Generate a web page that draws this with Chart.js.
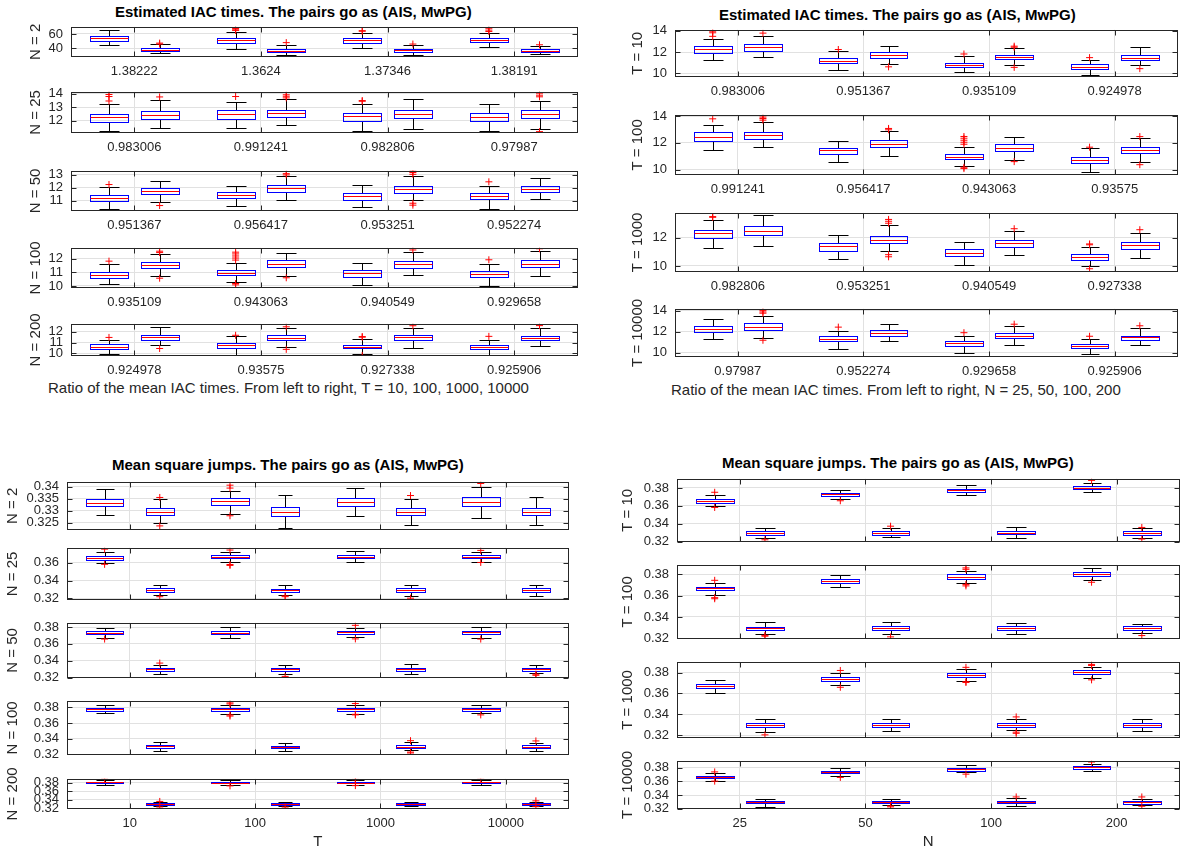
<!DOCTYPE html>
<html>
<head>
<meta charset="utf-8">
<title>IAC times and mean square jumps</title>
<script src="https://cdn.jsdelivr.net/npm/chart.js@4.4.0/dist/chart.umd.min.js"></script>
<style>
  html, body { margin: 0; padding: 0; background: #fff; }
  body { width: 1184px; height: 852px; position: relative; overflow: hidden;
         font-family: 'Liberation Sans', Arial, Helvetica, sans-serif; }
  canvas { position: absolute; }
  .txt { position: absolute; white-space: nowrap; color: #262626; font-size: 15px; line-height: 18px; }
  .ttl { font-weight: bold; color: #000; }
</style>
</head>
<body>
<div class="txt ttl" style="left:115px;top:3px;">Estimated IAC times. The pairs go as (AIS, MwPG)</div>
<div class="txt ttl" style="left:719px;top:6px;">Estimated IAC times. The pairs go as (AIS, MwPG)</div>
<div class="txt ttl" style="left:112px;top:456px;">Mean square jumps. The pairs go as (AIS, MwPG)</div>
<div class="txt ttl" style="left:722px;top:454px;">Mean square jumps. The pairs go as (AIS, MwPG)</div>
<div class="txt" style="left:48px;top:379px;">Ratio of the mean IAC times. From left to right, T = 10, 100, 1000, 10000</div>
<div class="txt" style="left:671px;top:381px;">Ratio of the mean IAC times. From left to right, N = 25, 50, 100, 200</div>

<script>
// ===== data =====
const nAll = ['2', '25', '50', '100', '200'];
const tValues = ['10', '100', '1000', '10000'];
const nValues = ['25', '50', '100', '200'];

// ratio of mean IAC times, per N, from left to right T = 10, 100, 1000, 10000
const iacRatioN2 = ['1.38222', '1.3624', '1.37346', '1.38191'];
const iacRatioN25 = ['0.983006', '0.991241', '0.982806', '0.97987'];
const iacRatioN50 = ['0.951367', '0.956417', '0.953251', '0.952274'];
const iacRatioN100 = ['0.935109', '0.943063', '0.940549', '0.929658'];
const iacRatioN200 = ['0.924978', '0.93575', '0.927338', '0.925906'];

// boxes: [low whisker, q1, median, q3, high whisker]
// order: T=10 AIS, T=10 MwPG, T=100 AIS, T=100 MwPG, T=1000 AIS, ...
const iacN2 = [[45, 50.4, 53.8, 56.9, 65.4], [33, 35.8, 37.7, 40, 45.4], [38.8, 48, 51.9, 54.6, 62.7], [30.8, 35.4, 37, 38.5, 44.2],
  [40.8, 48, 51.5, 53.8, 62], [30.8, 35, 37.3, 38.8, 44.2], [42.3, 48.8, 52.3, 54.6, 61.5], [31.5, 35.4, 37, 38.5, 43.8]];
const iacN2Out = [[], [47.3, 46], [67.7, 65.8, 65], [48], [64.6, 63.8], [46], [68, 65.4, 63.5], [45]];

const iacN25 = [[11.25, 11.95, 12.25, 12.52, 13.22], [11.5, 12.14, 12.45, 12.73, 13.52], [11.45, 12.12, 12.47, 12.78, 13.37], [11.7, 12.3, 12.58, 12.8, 13.58],
  [11.26, 11.97, 12.34, 12.56, 13.26], [11.43, 12.18, 12.48, 12.8, 13.61], [11.28, 11.97, 12.25, 12.56, 13.22], [11.43, 12.21, 12.51, 12.8, 13.5]];
const iacN25Out = [[13.95, 13.8, 13.47], [13.77], [13.8], [13.93, 13.82, 13.7], [13.5, 13.45], [], [], [14.05, 13.9, 13.78, 11.2]];

const iacN50 = [[10.33, 10.96, 11.17, 11.42, 12.06], [10.87, 11.48, 11.73, 12.01, 12.52], [10.58, 11.19, 11.45, 11.64, 12.15], [11.02, 11.68, 11.95, 12.2, 12.9],
  [10.52, 11.06, 11.38, 11.6, 12.22], [11.04, 11.62, 11.86, 12.15, 12.87], [10.37, 11.09, 11.33, 11.56, 12.09], [11.12, 11.65, 11.87, 12.14, 12.78]];
const iacN50Out = [[12.24], [10.62], [], [13.08, 12.98], [], [13.3, 13.17, 13.03, 10.8, 10.65], [12.45], []];

const iacN100 = [[10.14, 10.58, 10.81, 11.01, 11.61], [10.75, 11.33, 11.54, 11.76, 12.35], [10.27, 10.78, 10.96, 11.18, 11.68], [10.75, 11.42, 11.64, 11.9, 12.44],
  [10.05, 10.69, 10.95, 11.19, 11.7], [10.8, 11.35, 11.62, 11.83, 12.49], [10.0, 10.63, 10.9, 11.1, 11.62], [10.76, 11.42, 11.64, 11.88, 12.6]];
const iacN100Out = [[11.82], [12.55, 12.45, 10.57], [12.48, 12.35, 12.2, 12.05, 11.9, 10.18, 10.08], [10.6], [], [12.64], [11.92], [12.73]];

const iacN200 = [[9.9, 10.43, 10.62, 10.84, 11.25], [10.77, 11.22, 11.49, 11.71, 12.44], [9.84, 10.5, 10.73, 10.96, 11.59], [10.6, 11.25, 11.46, 11.68, 12.37],
  [9.97, 10.45, 10.63, 10.82, 11.36], [10.54, 11.23, 11.49, 11.69, 12.35], [9.87, 10.42, 10.61, 10.8, 11.28], [10.72, 11.23, 11.47, 11.65, 12.32]];
const iacN200Out = [[11.48], [10.45], [11.68], [12.47, 10.37], [11.56, 11.5, 9.8], [12.57], [11.58], [12.58]];

const msjN2 = [[0.3282, 0.332, 0.3333, 0.3349, 0.3389], [0.3247, 0.3282, 0.3294, 0.331, 0.335], [0.3285, 0.3324, 0.3339, 0.3354, 0.3383], [0.3227, 0.3278, 0.3295, 0.3315, 0.3367],
  [0.3279, 0.3319, 0.3336, 0.3353, 0.3396], [0.324, 0.3281, 0.3296, 0.331, 0.3349], [0.3269, 0.3319, 0.3338, 0.3356, 0.3398], [0.324, 0.3281, 0.3296, 0.3313, 0.3359]];
const msjN2Out = [[], [0.3355, 0.3237], [0.3406, 0.3394, 0.3279], [], [], [0.3363], [0.3413], []];

const msjN25 = [[0.3595, 0.3634, 0.3655, 0.3673, 0.3723], [0.3239, 0.3277, 0.3295, 0.3313, 0.3352], [0.3606, 0.365, 0.3668, 0.3684, 0.3717], [0.3242, 0.3276, 0.3293, 0.3309, 0.3349],
  [0.3608, 0.3652, 0.3669, 0.3686, 0.3731], [0.3232, 0.3276, 0.3293, 0.3312, 0.3356], [0.361, 0.3651, 0.3668, 0.3685, 0.3717], [0.3232, 0.3277, 0.3295, 0.3313, 0.3347]];
const msjN25Out = [[0.3752, 0.3582], [0.322], [0.3742, 0.358, 0.357], [0.3228, 0.322], [], [0.3203], [0.3738, 0.3603], []];

const msjN50 = [[0.3673, 0.3712, 0.3728, 0.3748, 0.3783], [0.3248, 0.3278, 0.3297, 0.3314, 0.335], [0.3675, 0.3715, 0.3734, 0.3751, 0.3795], [0.3241, 0.3276, 0.3296, 0.3311, 0.3349],
  [0.3677, 0.3716, 0.3737, 0.3756, 0.3792], [0.324, 0.3278, 0.3298, 0.3316, 0.3356], [0.3671, 0.3715, 0.3738, 0.3758, 0.3801], [0.3251, 0.3278, 0.3298, 0.3315, 0.3344]];
const msjN50Out = [[0.3657], [0.3372], [], [0.3214], [0.382, 0.3659], [], [0.3657], [0.324, 0.3227]];

const msjN100 = [[0.3723, 0.3756, 0.3774, 0.3794, 0.3832], [0.3241, 0.3281, 0.3301, 0.3319, 0.3358], [0.3714, 0.3758, 0.3777, 0.3797, 0.3825], [0.3238, 0.3276, 0.3295, 0.3311, 0.3343],
  [0.3722, 0.376, 0.3778, 0.3797, 0.383], [0.3251, 0.3281, 0.33, 0.3318, 0.3352], [0.3732, 0.3757, 0.3779, 0.3797, 0.3834], [0.3242, 0.3277, 0.3297, 0.3316, 0.335]];
const msjN100Out = [[], [], [0.3858, 0.3845, 0.3704, 0.369], [], [0.385, 0.3712, 0.3705], [0.3375, 0.3229, 0.3218], [0.3705], [0.3372]];

const msjN200 = [[0.375, 0.3788, 0.3805, 0.3825, 0.3854], [0.3242, 0.3278, 0.3298, 0.3318, 0.3348], [0.3748, 0.378, 0.3803, 0.382, 0.3855], [0.3247, 0.3276, 0.3295, 0.3311, 0.3338],
  [0.3748, 0.3782, 0.3803, 0.382, 0.3852], [0.324, 0.3279, 0.3298, 0.3318, 0.3355], [0.3751, 0.3784, 0.3805, 0.3824, 0.386], [0.3248, 0.3276, 0.3297, 0.3316, 0.3345]];
const msjN200Out = [[0.3885], [0.3358, 0.3228], [0.3724], [0.3226], [0.3878, 0.3868, 0.373], [], [0.3882], [0.3372, 0.3236]];

// y ticks and limits of every subplot
const iacTicksN = [[40, 60], [12, 13, 14], [11, 12, 13], [10, 11, 12], [10, 11, 12]];
const iacTicksT = [[10, 12, 14], [10, 12, 14], [10, 12], [10, 12, 14]];
const msjTicksN = [[0.325, 0.33, 0.335, 0.34], [0.32, 0.34, 0.36], [0.32, 0.34, 0.36, 0.38], [0.32, 0.34, 0.36, 0.38], [0.32, 0.34, 0.36, 0.38]];
const msjTicksT = [[0.32, 0.34, 0.36, 0.38], [0.32, 0.34, 0.36, 0.38], [0.32, 0.34, 0.36, 0.38], [0.32, 0.34, 0.36, 0.38]];
const iacLimN = [[28, 70], [11.1, 14.15], [10.2, 13.3], [9.85, 12.8], [9.75, 12.75]];
const iacLimT = [[9.67, 14.08], [9.6, 14.1], [9.57, 13.77], [9.6, 14.2]];
const msjLimN = [[0.322, 0.342], [0.3183, 0.3767], [0.3195, 0.385], [0.3192, 0.3885], [0.318, 0.389]];
const msjLimT = [[0.3195, 0.3903], [0.3194, 0.3887], [0.3173, 0.3903], [0.3196, 0.39]];

// ===== layout =====
const PAD_T = 10;
const pairTicks = [1.5, 3.5, 5.5, 7.5];
const posStd = [1.1, 1.9, 3.1, 3.9, 5.1, 5.9, 7.1, 7.9];
const widStd = [0.6, 0.6, 0.6, 0.6, 0.6, 0.6, 0.6, 0.6];
const posBL = [1.1, 1.98, 3.1, 3.98, 5.1, 5.98, 7.1, 7.98];
const widBL = [0.6, 0.45, 0.6, 0.45, 0.6, 0.45, 0.6, 0.45];

Chart.defaults.font.family = "'Liberation Sans', Arial, Helvetica, sans-serif";
Chart.defaults.color = '#262626';

// boxes, whiskers and medians, drawn from the chart's scales
const boxPlugin = {
  id: 'matlabBox',
  beforeDatasetsDraw(chart) {
    const ds = chart.data.datasets[0];
    const { ctx, chartArea: a, scales: { x, y } } = chart;
    ctx.save();
    ctx.beginPath();
    ctx.rect(a.left, a.top, a.right - a.left, a.bottom - a.top);
    ctx.clip();
    ctx.lineWidth = 1;
    const py = v => Math.round(y.getPixelForValue(v)) + 0.5;
    const line = (x1, y1, x2, y2) => { ctx.beginPath(); ctx.moveTo(x1, y1); ctx.lineTo(x2, y2); ctx.stroke(); };
    ds.boxes.forEach((b, i) => {
      const p = ds.pos[i], w = ds.wid[i];
      const cx = Math.round(x.getPixelForValue(p)) + 0.5;
      const l = Math.round(x.getPixelForValue(p - w / 2)) + 0.5;
      const r = Math.round(x.getPixelForValue(p + w / 2)) + 0.5;
      const cap = Math.round((r - l) / 4);
      const lo = py(b[0]), q1 = py(b[1]), md = py(b[2]), q3 = py(b[3]), hi = py(b[4]);
      ctx.strokeStyle = '#000000';
      line(cx, q3, cx, hi);
      line(cx, q1, cx, lo);
      line(cx - cap, hi, cx + cap, hi);
      line(cx - cap, lo, cx + cap, lo);
      ctx.strokeStyle = '#0000ff';
      ctx.strokeRect(l, q3, r - l, q1 - q3);
      ctx.strokeStyle = '#ff0000';
      line(l, md, r, md);
    });
    ctx.restore();
  },
  afterDraw(chart) {
    const { ctx, chartArea: a, scales: { x, y } } = chart;
    const L = Math.round(a.left) + 0.5, R = Math.round(a.right) - 0.5;
    const T = Math.round(a.top) + 0.5, B = Math.round(a.bottom) - 0.5;
    ctx.save();
    ctx.strokeStyle = '#262626';
    ctx.lineWidth = 1;
    ctx.strokeRect(L, T, R - L, B - T);
    ctx.beginPath();
    x.ticks.forEach(t => {
      const px = Math.round(x.getPixelForValue(t.value)) + 0.5;
      ctx.moveTo(px, T); ctx.lineTo(px, T + 5);
      ctx.moveTo(px, B); ctx.lineTo(px, B - 5);
    });
    y.ticks.forEach(t => {
      const pv = Math.round(y.getPixelForValue(t.value)) + 0.5;
      ctx.moveTo(L, pv); ctx.lineTo(L + 5, pv);
      ctx.moveTo(R, pv); ctx.lineTo(R - 5, pv);
    });
    ctx.stroke();
    ctx.restore();
  }
};

function addPlot(o) {
  const canvas = document.createElement('canvas');
  const w = o.axR + 2 - o.left0;
  const h = (o.bot - o.top) + PAD_T + o.bottomArea;
  canvas.width = w;
  canvas.height = h;
  canvas.style.cssText = 'left:' + o.left0 + 'px;top:' + (o.top - PAD_T) + 'px;width:' + w + 'px;height:' + h + 'px;';
  document.body.appendChild(canvas);

  const pts = [];
  o.out.forEach((vals, i) => vals.forEach(v => pts.push({ x: o.pos[i], y: v })));

  new Chart(canvas, {
    type: 'scatter',
    data: {
      datasets: [{
        data: pts, boxes: o.boxes, pos: o.pos, wid: o.wid,
        pointStyle: 'cross', pointRadius: 3.5, pointHoverRadius: 3.5,
        pointBorderWidth: 1, pointBorderColor: '#ff0000', pointBackgroundColor: '#ff0000'
      }]
    },
    options: {
      responsive: false,
      animation: false,
      events: [],
      layout: { padding: { top: PAD_T, left: 0, right: 2, bottom: 0 } },
      plugins: { legend: { display: false }, tooltip: { enabled: false } },
      scales: {
        x: {
          type: 'linear', min: 0.5, max: 8.5,
          afterBuildTicks: s => { s.ticks = pairTicks.map(v => ({ value: v })); },
          afterFit: s => { s.height = o.bottomArea; },
          ticks: {
            display: !!o.xlabels,
            callback: (v, i) => (o.xlabels ? o.xlabels[i] : ''),
            autoSkip: false, maxRotation: 0, minRotation: 0, padding: 7,
            color: '#262626', font: { size: 13 }
          },
          grid: { color: '#e1e1e1', drawTicks: false },
          border: { display: false },
          title: { display: !!o.xtitle, text: o.xtitle || '', color: '#262626', font: { size: 15 }, padding: { top: 0, bottom: 0 } }
        },
        y: {
          min: o.lim[0], max: o.lim[1],
          afterBuildTicks: s => { s.ticks = o.yticks.map(v => ({ value: v })); },
          afterFit: s => { s.width = o.axL - o.left0; },
          ticks: { callback: v => String(v), autoSkip: false, padding: 8, color: '#262626', font: { size: 13 } },
          grid: { color: '#e1e1e1', drawTicks: false },
          border: { display: false },
          title: { display: true, text: o.ylab, color: '#262626', font: { size: 15 }, padding: { top: o.yTitleX - o.left0 - 9, bottom: 0 } }
        }
      }
    },
    plugins: [boxPlugin]
  });
}

// pick the (AIS, MwPG) pair of column t from each N row
const pickPair = (rows, t) => rows.flatMap(r => [r[2 * t], r[2 * t + 1]]);

const iacN = [iacN2, iacN25, iacN50, iacN100, iacN200];
const iacNOut = [iacN2Out, iacN25Out, iacN50Out, iacN100Out, iacN200Out];
const iacRatio = [iacRatioN2, iacRatioN25, iacRatioN50, iacRatioN100, iacRatioN200];
const msjN = [msjN2, msjN25, msjN50, msjN100, msjN200];
const msjNOut = [msjN2Out, msjN25Out, msjN50Out, msjN100Out, msjN200Out];

// top left: IAC, one row per N
const tlRows = [[21, 57], [86, 133], [165, 211], [242, 288], [318, 356]];
tlRows.forEach((r, k) => addPlot({
  left0: 0, axL: 71, axR: 580, top: r[0], bot: r[1], yTitleX: 36, bottomArea: 24,
  ylab: 'N = ' + nAll[k], lim: iacLimN[k], yticks: iacTicksN[k],
  boxes: iacN[k], out: iacNOut[k], xlabels: iacRatio[k], pos: posStd, wid: widStd
}));

// top right: IAC, one row per T
const trRows = [[24, 77], [109, 175], [207, 272], [303, 357]];
trRows.forEach((r, t) => addPlot({
  left0: 590, axL: 675, axR: 1180, top: r[0], bot: r[1], yTitleX: 638, bottomArea: 24,
  ylab: 'T = ' + tValues[t], lim: iacLimT[t], yticks: iacTicksT[t],
  boxes: pickPair(iacN.slice(1), t), out: pickPair(iacNOut.slice(1), t),
  xlabels: iacRatio.slice(1).map(a => a[t]), pos: posStd, wid: widStd
}));

// bottom left: mean square jumps, one row per N
const blRows = [[476, 530], [542, 600], [617, 678], [695, 755], [773, 809]];
blRows.forEach((r, k) => {
  const last = k === blRows.length - 1;
  addPlot({
    left0: 0, axL: 67, axR: 571, top: r[0], bot: r[1], yTitleX: 13, bottomArea: last ? 42 : 24,
    ylab: 'N = ' + nAll[k], lim: msjLimN[k], yticks: msjTicksN[k],
    boxes: msjN[k], out: msjNOut[k], xlabels: last ? tValues : null, xtitle: last ? 'T' : null,
    pos: posBL, wid: widBL
  });
});

// bottom right: mean square jumps, one row per T
const brRows = [[473, 542], [559, 639], [656, 738], [755, 809]];
brRows.forEach((r, t) => {
  const last = t === brRows.length - 1;
  addPlot({
    left0: 590, axL: 677, axR: 1182, top: r[0], bot: r[1], yTitleX: 628, bottomArea: last ? 42 : 24,
    ylab: 'T = ' + tValues[t], lim: msjLimT[t], yticks: msjTicksT[t],
    boxes: pickPair(msjN.slice(1), t), out: pickPair(msjNOut.slice(1), t),
    xlabels: last ? nValues : null, xtitle: last ? 'N' : null, pos: posStd, wid: widStd
  });
});
</script>
</body>
</html>
